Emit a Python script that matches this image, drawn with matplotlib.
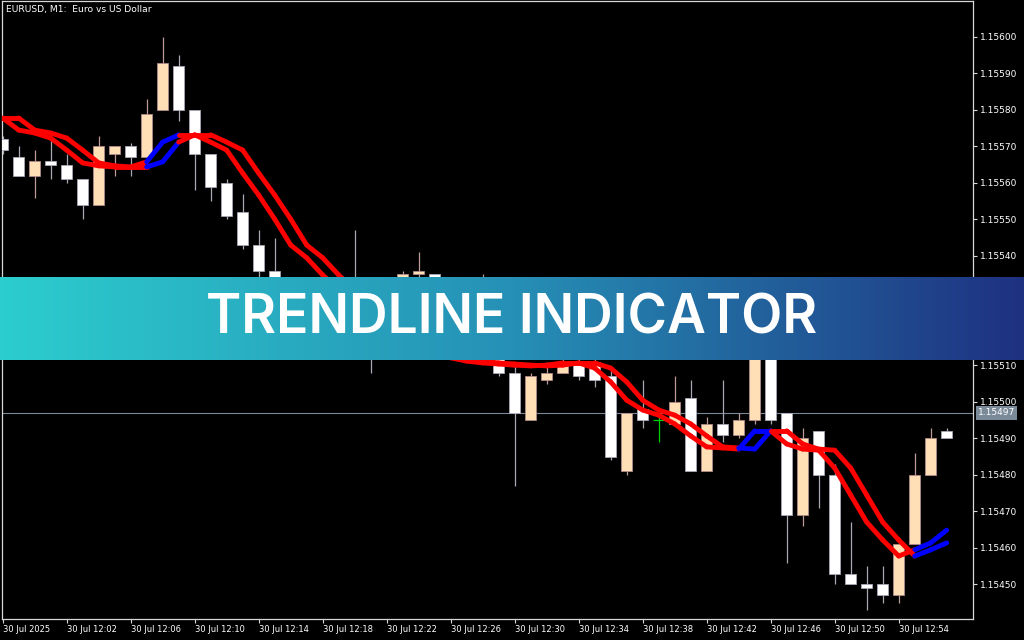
import numpy as np
import matplotlib
matplotlib.use("Agg")
import matplotlib.pyplot as plt
from matplotlib.collections import LineCollection
from matplotlib.colors import LinearSegmentedColormap
from matplotlib.transforms import blended_transform_factory

# EURUSD M1 bars, 11:58 .. 12:57 (one bar per minute)
opens = [1.15572, 1.15567, 1.15562, 1.15566, 1.15565, 1.15561, 1.15554, 1.15568, 1.15570, 1.15567,
         1.15580, 1.15592, 1.15580, 1.15568, 1.15560, 1.15552, 1.15543, 1.15536, 1.15532, 1.15534,
         1.15534, 1.15528, 1.15528, 1.15523, 1.15523, 1.15528, 1.15535, 1.15535, 1.15528, 1.15520,
         1.15520, 1.15520, 1.15508, 1.15495, 1.15506, 1.15508, 1.15511, 1.15511, 1.15507, 1.15481,
         1.15498, 1.15495, 1.15494, 1.15501, 1.15481, 1.15494, 1.15491, 1.15495, 1.15517, 1.15497,
         1.15469, 1.15492, 1.15480, 1.15453, 1.15450, 1.15450, 1.15447, 1.15461, 1.15480, 1.15492]
highs = [1.15573, 1.15570, 1.15569, 1.15574, 1.15568, 1.15561, 1.15573, 1.15570, 1.15571, 1.15583,
         1.15600, 1.15595, 1.15580, 1.15568, 1.15561, 1.15557, 1.15547, 1.15545, 1.15533, 1.15534,
         1.15534, 1.15531, 1.15547, 1.15528, 1.15531, 1.15536, 1.15541, 1.15535, 1.15531, 1.15528,
         1.15535, 1.15523, 1.15510, 1.15508, 1.15511, 1.15513, 1.15513, 1.15514, 1.15509, 1.15497,
         1.15506, 1.15497, 1.15507, 1.15506, 1.15496, 1.15506, 1.15497, 1.15523, 1.15520, 1.15497,
         1.15493, 1.15492, 1.15483, 1.15467, 1.15455, 1.15455, 1.15463, 1.15486, 1.15493, 1.15493]
lows = [1.15568, 1.15562, 1.15556, 1.15561, 1.15560, 1.15550, 1.15554, 1.15562, 1.15562, 1.15567,
        1.15580, 1.15577, 1.15558, 1.15555, 1.15550, 1.15542, 1.15533, 1.15529, 1.15525, 1.15527,
        1.15528, 1.15520, 1.15517, 1.15508, 1.15520, 1.15525, 1.15531, 1.15525, 1.15520, 1.15517,
        1.15517, 1.15507, 1.15477, 1.15495, 1.15505, 1.15508, 1.15506, 1.15504, 1.15484, 1.15480,
        1.15493, 1.15489, 1.15494, 1.15481, 1.15481, 1.15489, 1.15490, 1.15494, 1.15494, 1.15456,
        1.15466, 1.15471, 1.15450, 1.15450, 1.15443, 1.15445, 1.15445, 1.15461, 1.15480, 1.15490]
closes = [1.15569, 1.15562, 1.15566, 1.15565, 1.15561, 1.15554, 1.15570, 1.15570, 1.15567, 1.15579,
          1.15593, 1.15580, 1.15568, 1.15559, 1.15551, 1.15543, 1.15536, 1.15531, 1.15528, 1.15528,
          1.15529, 1.15523, 1.15523, 1.15517, 1.15528, 1.15535, 1.15536, 1.15528, 1.15523, 1.15525,
          1.15528, 1.15508, 1.15497, 1.15507, 1.15508, 1.15511, 1.15507, 1.15506, 1.15485, 1.15497,
          1.15495, 1.15495, 1.15500, 1.15481, 1.15494, 1.15491, 1.15495, 1.15517, 1.15495, 1.15469,
          1.15490, 1.15480, 1.15453, 1.15450, 1.15449, 1.15447, 1.15461, 1.15480, 1.15490, 1.15490]

# trendline value per bar, starting one bar before 11:58
trendline = [1.155778, 1.155778, 1.155745, 1.155737, 1.155723, 1.155690, 1.155655, 1.155647, 1.155644, 1.155644,
             1.155658, 1.155712, 1.155732, 1.155732, 1.155712, 1.155690, 1.155627, 1.155567, 1.155501, 1.155430,
             1.155395, 1.155348, 1.155307, 1.155266, 1.155230, 1.155197, 1.155170, 1.155148, 1.155132, 1.155121,
             1.155112, 1.155107, 1.155104, 1.155101, 1.155099, 1.155101, 1.155107, 1.155107, 1.155093, 1.155055,
             1.155005, 1.154978, 1.154964, 1.154940, 1.154907, 1.154877, 1.154874, 1.154871, 1.154921, 1.154921,
             1.154885, 1.154871, 1.154868, 1.154819, 1.154745, 1.154671, 1.154622, 1.154578, 1.154595, 1.154614,
             1.154649]
up_bars = [10, 11, 47, 48, 58, 59]

time_labels = ["30 Jul 2025", "30 Jul 12:02", "30 Jul 12:06", "30 Jul 12:10", "30 Jul 12:14",
               "30 Jul 12:18", "30 Jul 12:22", "30 Jul 12:26", "30 Jul 12:30", "30 Jul 12:34",
               "30 Jul 12:38", "30 Jul 12:42", "30 Jul 12:46", "30 Jul 12:50", "30 Jul 12:54"]
price_ticks = [1.15450, 1.15460, 1.15470, 1.15480, 1.15490, 1.15500, 1.15510,
               1.15520, 1.15530, 1.15540, 1.15550, 1.15560, 1.15570, 1.15580, 1.15590, 1.15600]
bid = 1.15497

fg = "#d8d8d8"
plt.rcParams["font.family"] = ["DejaVu Sans"]

fig = plt.figure(figsize=(10.24, 6.4), dpi=100, facecolor="black")
ax = fig.add_axes([2 / 1024, 1 - 619 / 640, 971 / 1024, 618 / 640])
ax.set_facecolor("black")

o = np.array(opens); h = np.array(highs); l = np.array(lows); c = np.array(closes)
idx = np.arange(len(o))
bull = c > o
bear = c < o
doji = c == o

ax.vlines(idx[bull], l[bull], h[bull], color="#c09a9a", lw=0.9, zorder=2)
ax.vlines(idx[bear], l[bear], h[bear], color="#a8a8b4", lw=0.9, zorder=2)
ax.bar(idx[bull], (c - o)[bull], bottom=o[bull], width=0.68, color="#ffdfb6",
       edgecolor="#b08a8a", lw=0.6, zorder=3)
ax.bar(idx[bear], (o - c)[bear], bottom=c[bear], width=0.68, color="white",
       edgecolor="#a8a8b8", lw=0.6, zorder=3)
ax.vlines(idx[doji], l[doji], h[doji], color="#00d000", lw=0.9, zorder=3)
ax.hlines(c[doji], idx[doji] - 0.34, idx[doji] + 0.34, color="#00d000", lw=0.9, zorder=3)

# bid line
ax.axhline(bid, color="#7c8894", lw=0.8, zorder=1)

# trendline and its one-bar-shifted copy
tr = np.array(trendline)
bars = np.arange(-1, len(o))
segs, cols = [], []
for shift in (0, 1):
    xs = bars + shift
    keep = xs <= len(o) - 1
    xs, ys = xs[keep], tr[keep]
    for k in range(1, len(xs)):
        segs.append([(xs[k - 1], ys[k - 1]), (xs[k], ys[k])])
        cols.append("#0000ff" if xs[k] in up_bars else "#ff0000")
lc = LineCollection(segs, colors=cols, linewidths=3.5, capstyle="round", joinstyle="round", zorder=4)
ax.add_collection(lc)

ax.set_xlim((2 - 2.7) / 16, (973 - 2.7) / 16)
ax.set_ylim(1.156 - 582 / 3.65e5, 1.156 + 36 / 3.65e5)

ax.yaxis.tick_right()
ax.set_yticks(price_ticks)
ax.set_yticklabels([f"{p:.5f}" for p in price_ticks])
ax.set_xticks(np.arange(0, 4 * len(time_labels), 4))
ax.set_xticklabels(time_labels)
for lab in ax.get_xticklabels():
    lab.set_ha("left")
    lab.set_fontsize(6)
for lab in ax.get_yticklabels():
    lab.set_fontsize(6.5)
ax.tick_params(axis="both", colors=fg, labelcolor="white", length=3, width=0.8, direction="out")
ax.tick_params(axis="y", pad=2)
ax.tick_params(axis="x", pad=1)
for s in ax.spines.values():
    s.set_color(fg)
    s.set_linewidth(0.9)

ax.text(0.004, 0.993, "EURUSD, M1:  Euro vs US Dollar", transform=ax.transAxes, color="white",
        fontsize=6.6, ha="left", va="top")

trans = blended_transform_factory(ax.transAxes, ax.transData)
ax.text(1.005, bid, f"{bid:.5f}", transform=trans, color="white", fontsize=6.5, ha="left", va="center",
        bbox=dict(boxstyle="square,pad=0.25", facecolor="#7b8a99", edgecolor="none"), zorder=6)

# banner
bax = fig.add_axes([0, 1 - 360 / 640, 1, 83 / 640])
cmap = LinearSegmentedColormap.from_list("banner", ["#2ccdce", "#2690b6", "#1e3181"])
bax.imshow(np.linspace(0, 1, 512)[None, :], cmap=cmap, aspect="auto", extent=[0, 1, 0, 1])
bax.set_axis_off()
bax.text(0.5, 0.5, "TRENDLINE INDICATOR", color="white", fontsize=38.5, fontweight="semibold",
         family=["Inter", "DejaVu Sans"], ha="center", va="center", transform=bax.transAxes)

fig.savefig("out.png", dpi=100, facecolor="black")
